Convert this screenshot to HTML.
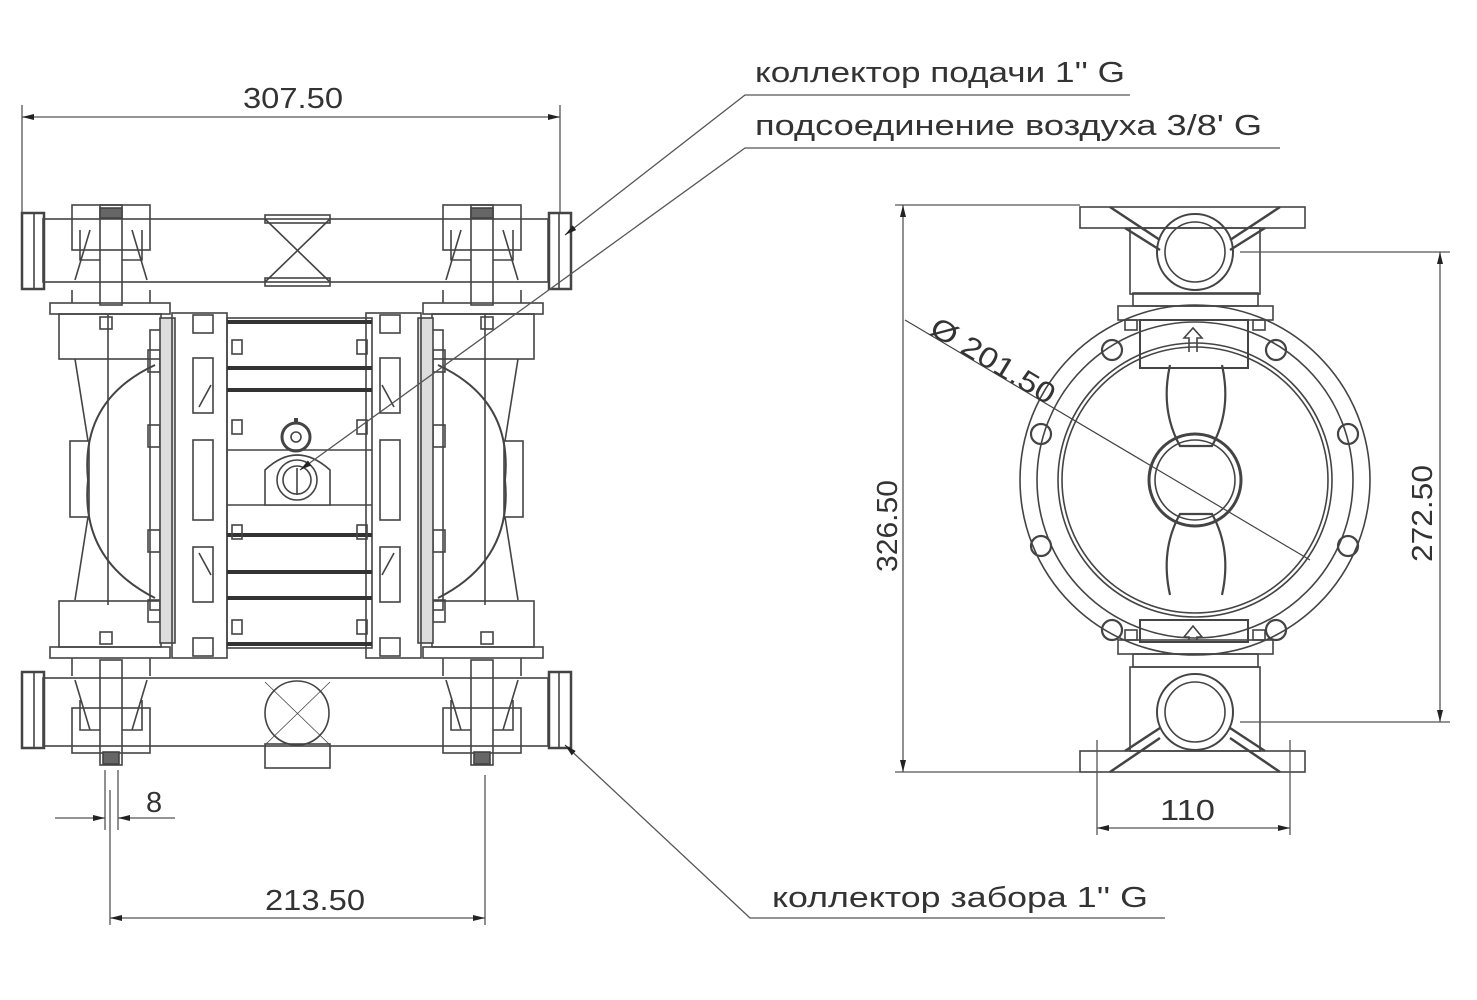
<!DOCTYPE html>
<html><head><meta charset="utf-8"><style>
html,body{margin:0;padding:0;background:#fff;}
svg{display:block;}
text{font-family:"Liberation Sans",sans-serif;fill:#333;}
</style></head><body>
<svg width="1477" height="1000" viewBox="0 0 1477 1000" xmlns="http://www.w3.org/2000/svg">
<defs>
<marker id="a" viewBox="0 0 12 6" refX="12" refY="3" markerWidth="12" markerHeight="6" orient="auto-start-reverse" markerUnits="userSpaceOnUse"><path d="M0,0 L12,3 L0,6z" fill="#222"/></marker>
</defs>
<g fill="none" stroke="#444" stroke-width="1.6">
<rect x="43" y="219" width="505" height="63"/>
<rect x="43" y="678" width="505" height="68"/>
<path d="M265 219 L330 282 M330 219 L265 282"/>
<rect x="265" y="215" width="65" height="8"/>
<rect x="265" y="278" width="65" height="8"/>
<circle cx="297" cy="713" r="32"/>
<path d="M265 682 L330 745 M330 682 L265 745" stroke-width="0.8"/>
<rect x="265" y="744" width="65" height="24"/>
<g id="half">
<rect x="22" y="213" width="22" height="76" stroke-width="2.5"/>
<line x1="34" y1="213" x2="34" y2="289"/>
<rect x="22" y="672" width="22" height="76" stroke-width="2.5"/>
<line x1="34" y1="672" x2="34" y2="748"/>
<rect x="72" y="205" width="78" height="45"/>
<path d="M80 230 L80 260 L100 260 M142 230 L142 260 L122 260 M75 280 L90 230 M147 280 L132 230 M72 290 L72 303 M150 290 L150 303"/>
<rect x="100" y="205" width="22" height="100"/>
<rect x="100" y="208" width="22" height="10" fill="#666"/>
<rect x="50" y="303" width="120" height="11"/>
<rect x="59" y="314" width="102" height="45"/>
<rect x="100" y="317" width="12" height="12"/>
<line x1="108" y1="314" x2="108" y2="605"/>
<path d="M75 359 L88 441 M75 600 L88 517"/>
<path d="M155 365 Q80 400 88 480 Q80 560 155 598" stroke-width="2"/>
<rect x="70" y="441" width="19" height="76"/>
<rect x="150" y="330" width="12" height="280"/>
<rect x="148" y="350" width="12" height="22"/>
<rect x="148" y="425" width="12" height="22"/>
<rect x="148" y="530" width="12" height="22"/>
<rect x="148" y="600" width="12" height="22"/>
<rect x="59" y="601" width="102" height="46"/>
<rect x="100" y="632" width="12" height="12"/>
<rect x="50" y="647" width="120" height="11"/>
<rect x="72" y="708" width="78" height="45"/>
<path d="M80 700 L80 730 L100 730 M142 700 L142 730 L122 730 M75 680 L90 730 M147 680 L132 730 M72 658 L72 676 M150 658 L150 676"/>
<rect x="100" y="660" width="22" height="105"/>
<rect x="103" y="752" width="16" height="12" fill="#666"/>
<rect x="160" y="318" width="15" height="325" fill="#ddd"/>
<rect x="172" y="313" width="55" height="345"/>
<rect x="193" y="315" width="20" height="18"/>
<rect x="193" y="358" width="20" height="55"/>
<rect x="193" y="440" width="20" height="80"/>
<rect x="193" y="547" width="20" height="55"/>
<rect x="193" y="638" width="20" height="18"/>
<line x1="199" y1="407" x2="211" y2="385"/>
<line x1="199" y1="553" x2="211" y2="575"/>
</g>
<use href="#half" transform="translate(593,0) scale(-1,1)"/>
<rect x="227" y="318" width="145" height="330"/>
<g stroke="#333" stroke-width="4">
<line x1="227" y1="322" x2="372" y2="322"/>
<line x1="227" y1="368" x2="372" y2="368"/>
<line x1="227" y1="390" x2="372" y2="390"/>
<line x1="227" y1="535" x2="372" y2="535"/>
<line x1="227" y1="572" x2="372" y2="572"/>
<line x1="227" y1="598" x2="372" y2="598"/>
<line x1="227" y1="644" x2="372" y2="644"/>
</g>
<line x1="227" y1="450" x2="372" y2="450"/>
<line x1="227" y1="505" x2="372" y2="505"/>
<rect x="232" y="340" width="10" height="14"/><rect x="357" y="340" width="10" height="14"/>
<rect x="232" y="420" width="10" height="14"/><rect x="357" y="420" width="10" height="14"/>
<rect x="232" y="525" width="10" height="14"/><rect x="357" y="525" width="10" height="14"/>
<rect x="232" y="620" width="10" height="14"/><rect x="357" y="620" width="10" height="14"/>
<path d="M265 505 L265 470 Q297 440 330 470 L330 505 Z" fill="#fff"/>
<circle cx="297" cy="480" r="20"/><circle cx="297" cy="480" r="14"/>
<line x1="297" y1="468" x2="297" y2="495"/>
<circle cx="296" cy="437" r="14" stroke-width="3"/>
<circle cx="296" cy="437" r="5"/>
<line x1="296" y1="418" x2="296" y2="423" stroke-width="4"/>
<circle cx="1195" cy="480" r="175"/>
<circle cx="1195" cy="480" r="158"/>
<circle cx="1195" cy="480" r="137"/>
<circle cx="1195" cy="480" r="133"/>
<g stroke-width="2.2">
<circle cx="1041" cy="434" r="10"/><circle cx="1348" cy="434" r="10"/>
<circle cx="1041" cy="546" r="10"/><circle cx="1348" cy="546" r="10"/>
<circle cx="1112" cy="350" r="10"/><circle cx="1276" cy="350" r="10"/>
<circle cx="1112" cy="630" r="10"/><circle cx="1276" cy="630" r="10"/>
</g>
<circle cx="1195" cy="480" r="46" stroke-width="3"/>
<circle cx="1195" cy="480" r="40"/>
<path d="M1170 365 Q1160 410 1180 446 L1212 446 Q1232 410 1222 365" stroke-width="2.2"/>
<path d="M1170 595 Q1160 550 1180 514 L1212 514 Q1232 550 1222 595" stroke-width="2.2"/>
<rect x="1140" y="320" width="108" height="48" stroke-width="2"/>
<rect x="1118" y="306" width="155" height="14"/>
<rect x="1133" y="293" width="125" height="13"/>
<rect x="1125" y="320" width="12" height="10"/><rect x="1253" y="320" width="12" height="10"/>
<path d="M1189 352 L1189 338 L1184 338 L1193 328 L1202 338 L1197 338 L1197 352"/>
<rect x="1130" y="228" width="130" height="66"/>
<circle cx="1195" cy="252" r="38" stroke-width="2"/><circle cx="1195" cy="252" r="30"/>
<rect x="1080" y="207" width="225" height="21"/>
<path d="M1110 207 L1160 240 M1280 207 L1230 240 M1125 228 L1160 250 M1265 228 L1230 250" stroke-width="2.5"/>
<rect x="1140" y="620" width="108" height="22" stroke-width="2"/>
<rect x="1118" y="640" width="155" height="14"/>
<rect x="1133" y="654" width="125" height="13"/>
<rect x="1125" y="630" width="12" height="10"/><rect x="1253" y="630" width="12" height="10"/>
<path d="M1189 640 L1189 637 L1184 637 L1193 626 L1202 637 L1197 637 L1197 640"/>
<rect x="1130" y="667" width="130" height="84"/>
<circle cx="1195" cy="712" r="38" stroke-width="2"/><circle cx="1195" cy="712" r="30"/>
<rect x="1080" y="751" width="225" height="21"/>
<path d="M1110 772 L1160 738 M1280 772 L1230 738 M1125 751 L1160 728 M1265 751 L1230 728" stroke-width="2.5"/>
<line x1="905" y1="320" x2="1310" y2="560" stroke-width="1.2"/>
</g>
<g stroke="#555" stroke-width="1.3" fill="none">
<line x1="22" y1="105" x2="22" y2="212"/>
<line x1="560" y1="105" x2="560" y2="212"/>
<line x1="22" y1="117" x2="560" y2="117" marker-start="url(#a)" marker-end="url(#a)"/>
<line x1="105" y1="770" x2="105" y2="830"/><line x1="118" y1="770" x2="118" y2="830"/>
<line x1="55" y1="818" x2="105" y2="818" marker-end="url(#a)"/>
<line x1="175" y1="818" x2="118" y2="818" marker-end="url(#a)"/>
<line x1="110" y1="790" x2="110" y2="925"/>
<line x1="485" y1="775" x2="485" y2="925"/>
<line x1="110" y1="918" x2="485" y2="918" marker-start="url(#a)" marker-end="url(#a)"/>
<line x1="895" y1="205" x2="1080" y2="205"/>
<line x1="895" y1="772" x2="1080" y2="772"/>
<line x1="903" y1="205" x2="903" y2="772" marker-start="url(#a)" marker-end="url(#a)"/>
<line x1="1240" y1="252" x2="1450" y2="252"/>
<line x1="1240" y1="722" x2="1450" y2="722"/>
<line x1="1440" y1="252" x2="1440" y2="722" marker-start="url(#a)" marker-end="url(#a)"/>
<line x1="1097" y1="740" x2="1097" y2="835"/>
<line x1="1290" y1="740" x2="1290" y2="835"/>
<line x1="1097" y1="828" x2="1290" y2="828" marker-start="url(#a)" marker-end="url(#a)"/>
<polyline points="1130,95 745,95 565,235" marker-end="url(#a)"/>
<polyline points="1280,148 745,148 300,470" marker-end="url(#a)"/>
<polyline points="1165,918 750,918 565,745" marker-end="url(#a)"/>
</g>
<g font-size="29">
<text x="243" y="108" textLength="100" lengthAdjust="spacingAndGlyphs">307.50</text>
<text x="146" y="812">8</text>
<text x="265" y="910" textLength="100" lengthAdjust="spacingAndGlyphs">213.50</text>
<text x="1160" y="820" textLength="55" lengthAdjust="spacingAndGlyphs">110</text>
<text x="755" y="82" textLength="370" lengthAdjust="spacingAndGlyphs">коллектор подачи 1'' G</text>
<text x="755" y="135" textLength="507" lengthAdjust="spacingAndGlyphs">подсоединение воздуха 3/8' G</text>
<text x="772" y="907" textLength="376" lengthAdjust="spacingAndGlyphs">коллектор забора 1'' G</text>
<text transform="translate(897,572) rotate(-90)" textLength="92" lengthAdjust="spacingAndGlyphs">326.50</text>
<text transform="translate(1432,562) rotate(-90)" textLength="97" lengthAdjust="spacingAndGlyphs">272.50</text>
<text transform="translate(928,333) rotate(31)" textLength="140" lengthAdjust="spacingAndGlyphs">Ø 201.50</text>
</g>
</svg>
</body></html>
